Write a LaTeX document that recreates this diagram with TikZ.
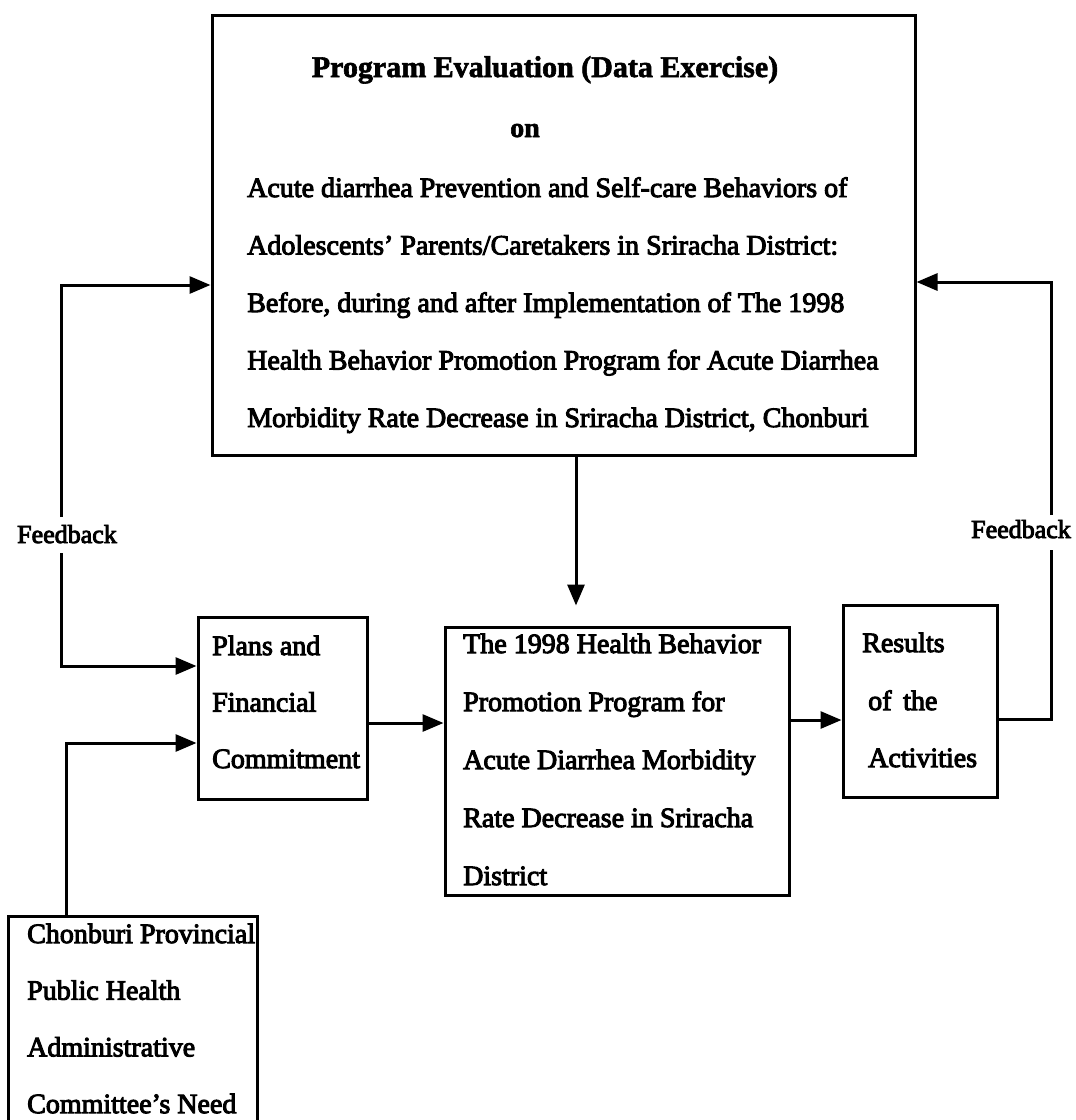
\documentclass[tikz,border=0pt]{standalone}
\usepackage{fontspec}
\setmainfont{Liberation Serif}
\newfontfamily\bodyfont{Liberation Serif}[FakeBold=3.5]
\newfontfamily\headfont{Liberation Serif Bold}[FakeBold=2]
\usetikzlibrary{arrows.meta}

\tikzset{
  frame/.style={draw, line width=3pt, rectangle, inner sep=0pt},
  txt/.style={anchor=base west, inner sep=0pt, font=\bodyfont\fontsize{28}{34}\selectfont},
  ttl/.style={anchor=base, inner sep=0pt, font=\headfont\fontsize{30}{36}\selectfont},
  fb/.style={anchor=base, inner sep=0pt, font=\bodyfont\fontsize{26}{30}\selectfont},
  link/.style={line width=3pt},
  arr/.style={link, -{Triangle[length=21pt,width=17pt]}},
}

\begin{document}
\begin{tikzpicture}[x=1pt,y=-1pt]
  \useasboundingbox (0,0) rectangle (1076,1120);
  \clip (0,0) rectangle (1076,1120);

  % boxes
  \node[frame, minimum width=703pt, minimum height=440pt] (eval) at (563.5,235) {};
  \node[frame, minimum width=169pt, minimum height=182pt] (plans) at (282.5,708) {};
  \node[frame, minimum width=344pt, minimum height=268pt] (prog) at (617,761) {};
  \node[frame, minimum width=154pt, minimum height=192pt] (res) at (920,701) {};
  \node[frame, minimum width=249pt, minimum height=240pt] (need) at (132.5,1036) {};

  % evaluation box text
  \node[ttl] (evtitle) at (545,77) {Program Evaluation (Data Exercise)};
  \node[anchor=base, inner sep=0pt, font=\headfont\fontsize{28}{34}\selectfont] (evon) at (525,137) {on};
  \foreach \t [count=\i] in {
      {Acute diarrhea Prevention and Self-care Behaviors of},
      {Adolescents’ Parents/Caretakers in Sriracha District:},
      {Before, during and after Implementation of The 1998},
      {Health Behavior Promotion Program for Acute Diarrhea},
      {Morbidity Rate Decrease in Sriracha District, Chonburi}} {
    \node[txt] (ev-\i) at (247,{197+57.5*(\i-1)}) {\t};
  }

  % plans box text
  \foreach \t [count=\i] in {Plans and, Financial, Commitment} {
    \node[txt] (pl-\i) at (212,{655+56.5*(\i-1)}) {\t};
  }

  % program box text
  \foreach \t [count=\i] in {
      {The 1998 Health Behavior},
      {Promotion Program for},
      {Acute Diarrhea Morbidity},
      {Rate Decrease in Sriracha},
      {District}} {
    \node[txt] (pg-\i) at (463,{653+58*(\i-1)}) {\t};
  }

  % results box text
  \node[txt] (rs-1) at (862,652) {Results};
  \node[txt] (rs-2) at (868,710) {of\, the};
  \node[txt] (rs-3) at (868,767) {Activities};

  % committee box text
  \foreach \t [count=\i] in {
      {Chonburi Provincial},
      {Public Health},
      {Administrative},
      {Committee’s Need}} {
    \node[txt] (nd-\i) at (27,{943+56.7*(\i-1)}) {\t};
  }

  % feedback labels and break points in their lines
  \node[fb] (fbL) at (67,543) {Feedback};
  \node[fb] (fbR) at (1021,538) {Feedback};
  \coordinate (lgapT) at (61,517);
  \coordinate (lgapB) at (61,553);
  \coordinate (rgapT) at (1051,515);
  \coordinate (rgapB) at (1051,550);

  % connectors
  \draw[arr] (lgapT) |- (eval.west |- 0,285);
  \draw[arr] (lgapB) |- (plans.west |- 0,666);
  \draw[arr] (need.north -| 66,0) |- (plans.west |- 0,743);
  \draw[arr, shorten >=20pt] (eval.south -| 576,0) -- (prog.north -| 576,0);
  \draw[arr] (plans.east |- 0,723) -- (prog.west |- 0,723);
  \draw[arr] (prog.east |- 0,720) -- (res.west |- 0,720);
  \draw[link] (res.east |- 0,719) -| (rgapB);
  \draw[arr] (rgapT) |- (eval.east |- 0,282);
\end{tikzpicture}
\end{document}
